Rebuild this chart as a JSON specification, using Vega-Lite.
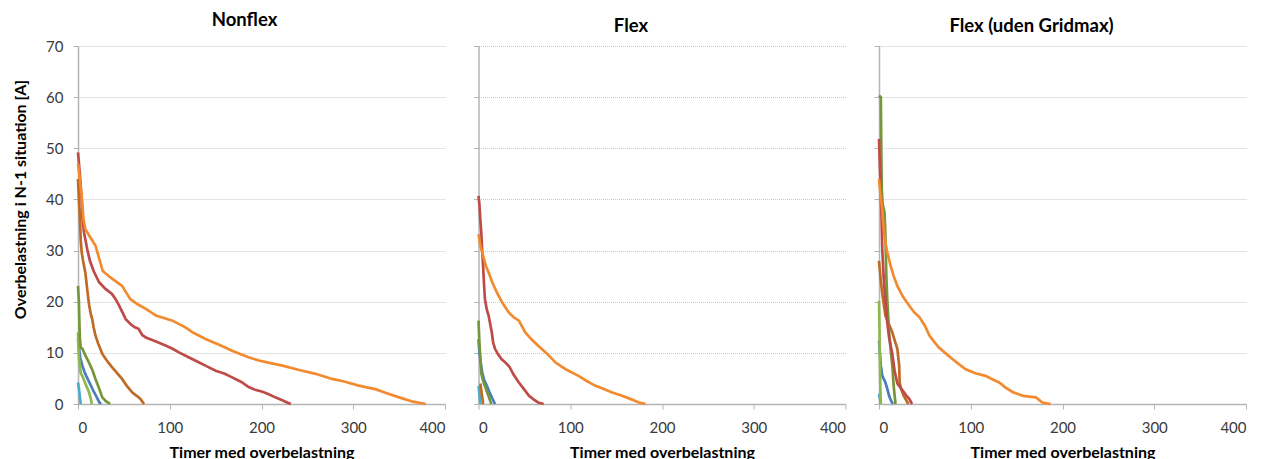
{
  "$schema": "https://vega.github.io/schema/vega-lite/v6.json",
  "background": "white",
  "padding": {"left": 12, "top": 10, "right": 2, "bottom": 0},
  "bounds": "flush",
  "spacing": 33.5,
  "config": {
    "font": "Lato",
    "view": {"stroke": null},
    "axis": {
      "labelFont": "Lato",
      "labelFontSize": 15,
      "labelColor": "#3A3A3A",
      "titleFont": "Lato",
      "titleFontSize": 16,
      "titleFontWeight": "bold",
      "titleColor": "#000000",
      "domainColor": "#B5B5B5",
      "domainWidth": 1.5,
      "tickColor": "#B5B5B5",
      "tickSize": 5,
      "gridColor": "#C8C8C8",
      "gridDash": [1, 1],
      "gridWidth": 1
    },
    "title": {"font": "Lato", "fontSize": 18.5, "fontWeight": "bold", "color": "#000000", "offset": 10}
  },
  "datasets": {
    "d": [
      {"panel": "Nonflex", "series": "aqua", "hours": 0, "value": 4.2},
      {"panel": "Nonflex", "series": "aqua", "hours": 1, "value": 3},
      {"panel": "Nonflex", "series": "aqua", "hours": 2, "value": 1.5},
      {"panel": "Nonflex", "series": "aqua", "hours": 3, "value": 0},
      {"panel": "Nonflex", "series": "blue", "hours": 0, "value": 12.7},
      {"panel": "Nonflex", "series": "blue", "hours": 1, "value": 11},
      {"panel": "Nonflex", "series": "blue", "hours": 2.5, "value": 9},
      {"panel": "Nonflex", "series": "blue", "hours": 4.7, "value": 7.5},
      {"panel": "Nonflex", "series": "blue", "hours": 7, "value": 6.3},
      {"panel": "Nonflex", "series": "blue", "hours": 9, "value": 5.5},
      {"panel": "Nonflex", "series": "blue", "hours": 13, "value": 4},
      {"panel": "Nonflex", "series": "blue", "hours": 17.5, "value": 2.3},
      {"panel": "Nonflex", "series": "blue", "hours": 20, "value": 1.5},
      {"panel": "Nonflex", "series": "blue", "hours": 23, "value": 0.4},
      {"panel": "Nonflex", "series": "blue", "hours": 25, "value": 0},
      {"panel": "Nonflex", "series": "green", "hours": 0, "value": 14},
      {"panel": "Nonflex", "series": "green", "hours": 1, "value": 9},
      {"panel": "Nonflex", "series": "green", "hours": 3, "value": 6},
      {"panel": "Nonflex", "series": "green", "hours": 4.7, "value": 5.5},
      {"panel": "Nonflex", "series": "green", "hours": 8, "value": 4},
      {"panel": "Nonflex", "series": "green", "hours": 12, "value": 2.3},
      {"panel": "Nonflex", "series": "green", "hours": 14, "value": 1},
      {"panel": "Nonflex", "series": "green", "hours": 15, "value": 0},
      {"panel": "Nonflex", "series": "olive", "hours": 0, "value": 23.1},
      {"panel": "Nonflex", "series": "olive", "hours": 1, "value": 20},
      {"panel": "Nonflex", "series": "olive", "hours": 1.5, "value": 16},
      {"panel": "Nonflex", "series": "olive", "hours": 2, "value": 13},
      {"panel": "Nonflex", "series": "olive", "hours": 3, "value": 11},
      {"panel": "Nonflex", "series": "olive", "hours": 4.7, "value": 10.8},
      {"panel": "Nonflex", "series": "olive", "hours": 8, "value": 9.5},
      {"panel": "Nonflex", "series": "olive", "hours": 12, "value": 8.1},
      {"panel": "Nonflex", "series": "olive", "hours": 16, "value": 6.5},
      {"panel": "Nonflex", "series": "olive", "hours": 19, "value": 4.9},
      {"panel": "Nonflex", "series": "olive", "hours": 22, "value": 3.5},
      {"panel": "Nonflex", "series": "olive", "hours": 26.5, "value": 1.3},
      {"panel": "Nonflex", "series": "olive", "hours": 30, "value": 0.6},
      {"panel": "Nonflex", "series": "olive", "hours": 35, "value": 0},
      {"panel": "Nonflex", "series": "brown", "hours": 0, "value": 44},
      {"panel": "Nonflex", "series": "brown", "hours": 1, "value": 40},
      {"panel": "Nonflex", "series": "brown", "hours": 2, "value": 36.8},
      {"panel": "Nonflex", "series": "brown", "hours": 3, "value": 32},
      {"panel": "Nonflex", "series": "brown", "hours": 4, "value": 29.7},
      {"panel": "Nonflex", "series": "brown", "hours": 6, "value": 27.5},
      {"panel": "Nonflex", "series": "brown", "hours": 8, "value": 25.7},
      {"panel": "Nonflex", "series": "brown", "hours": 10, "value": 22.5},
      {"panel": "Nonflex", "series": "brown", "hours": 12, "value": 19.5},
      {"panel": "Nonflex", "series": "brown", "hours": 14, "value": 17.5},
      {"panel": "Nonflex", "series": "brown", "hours": 15.5, "value": 16.6},
      {"panel": "Nonflex", "series": "brown", "hours": 17, "value": 15},
      {"panel": "Nonflex", "series": "brown", "hours": 19, "value": 13.4},
      {"panel": "Nonflex", "series": "brown", "hours": 22, "value": 11.8},
      {"panel": "Nonflex", "series": "brown", "hours": 26.5, "value": 9.8},
      {"panel": "Nonflex", "series": "brown", "hours": 31, "value": 8.6},
      {"panel": "Nonflex", "series": "brown", "hours": 37, "value": 7.2},
      {"panel": "Nonflex", "series": "brown", "hours": 42, "value": 6.2},
      {"panel": "Nonflex", "series": "brown", "hours": 48, "value": 4.9},
      {"panel": "Nonflex", "series": "brown", "hours": 53, "value": 3.6},
      {"panel": "Nonflex", "series": "brown", "hours": 59, "value": 2.3},
      {"panel": "Nonflex", "series": "brown", "hours": 64, "value": 1.6},
      {"panel": "Nonflex", "series": "brown", "hours": 68, "value": 1},
      {"panel": "Nonflex", "series": "brown", "hours": 72, "value": 0},
      {"panel": "Nonflex", "series": "red", "hours": 0, "value": 49.2},
      {"panel": "Nonflex", "series": "red", "hours": 2, "value": 45},
      {"panel": "Nonflex", "series": "red", "hours": 4, "value": 40},
      {"panel": "Nonflex", "series": "red", "hours": 5, "value": 36},
      {"panel": "Nonflex", "series": "red", "hours": 6.5, "value": 33.6},
      {"panel": "Nonflex", "series": "red", "hours": 10, "value": 30.3},
      {"panel": "Nonflex", "series": "red", "hours": 13, "value": 28},
      {"panel": "Nonflex", "series": "red", "hours": 17, "value": 26},
      {"panel": "Nonflex", "series": "red", "hours": 23, "value": 23.8},
      {"panel": "Nonflex", "series": "red", "hours": 30, "value": 22.5},
      {"panel": "Nonflex", "series": "red", "hours": 37, "value": 21.5},
      {"panel": "Nonflex", "series": "red", "hours": 41, "value": 20.5},
      {"panel": "Nonflex", "series": "red", "hours": 45, "value": 19.2},
      {"panel": "Nonflex", "series": "red", "hours": 52, "value": 16.6},
      {"panel": "Nonflex", "series": "red", "hours": 58, "value": 15.5},
      {"panel": "Nonflex", "series": "red", "hours": 62, "value": 15},
      {"panel": "Nonflex", "series": "red", "hours": 66, "value": 14.7},
      {"panel": "Nonflex", "series": "red", "hours": 70, "value": 13.5},
      {"panel": "Nonflex", "series": "red", "hours": 74, "value": 13},
      {"panel": "Nonflex", "series": "red", "hours": 85, "value": 12.2},
      {"panel": "Nonflex", "series": "red", "hours": 96, "value": 11.4},
      {"panel": "Nonflex", "series": "red", "hours": 103, "value": 10.8},
      {"panel": "Nonflex", "series": "red", "hours": 110, "value": 10.1},
      {"panel": "Nonflex", "series": "red", "hours": 120, "value": 9.2},
      {"panel": "Nonflex", "series": "red", "hours": 132, "value": 8.1},
      {"panel": "Nonflex", "series": "red", "hours": 140, "value": 7.4},
      {"panel": "Nonflex", "series": "red", "hours": 150, "value": 6.5},
      {"panel": "Nonflex", "series": "red", "hours": 160, "value": 5.9},
      {"panel": "Nonflex", "series": "red", "hours": 168, "value": 5.2},
      {"panel": "Nonflex", "series": "red", "hours": 178, "value": 4.3},
      {"panel": "Nonflex", "series": "red", "hours": 186, "value": 3.3},
      {"panel": "Nonflex", "series": "red", "hours": 193, "value": 2.8},
      {"panel": "Nonflex", "series": "red", "hours": 201, "value": 2.4},
      {"panel": "Nonflex", "series": "red", "hours": 208, "value": 1.9},
      {"panel": "Nonflex", "series": "red", "hours": 215, "value": 1.3},
      {"panel": "Nonflex", "series": "red", "hours": 222, "value": 0.8},
      {"panel": "Nonflex", "series": "red", "hours": 226, "value": 0.45},
      {"panel": "Nonflex", "series": "red", "hours": 232, "value": 0},
      {"panel": "Nonflex", "series": "orange", "hours": 0, "value": 47},
      {"panel": "Nonflex", "series": "orange", "hours": 2, "value": 44},
      {"panel": "Nonflex", "series": "orange", "hours": 4, "value": 40.7},
      {"panel": "Nonflex", "series": "orange", "hours": 6, "value": 36},
      {"panel": "Nonflex", "series": "orange", "hours": 8, "value": 34.2},
      {"panel": "Nonflex", "series": "orange", "hours": 12, "value": 33},
      {"panel": "Nonflex", "series": "orange", "hours": 19, "value": 31},
      {"panel": "Nonflex", "series": "orange", "hours": 27, "value": 26},
      {"panel": "Nonflex", "series": "orange", "hours": 35, "value": 24.8},
      {"panel": "Nonflex", "series": "orange", "hours": 48, "value": 23.1},
      {"panel": "Nonflex", "series": "orange", "hours": 57, "value": 20.5},
      {"panel": "Nonflex", "series": "orange", "hours": 65, "value": 19.5},
      {"panel": "Nonflex", "series": "orange", "hours": 74, "value": 18.6},
      {"panel": "Nonflex", "series": "orange", "hours": 85, "value": 17.3},
      {"panel": "Nonflex", "series": "orange", "hours": 103, "value": 16.3},
      {"panel": "Nonflex", "series": "orange", "hours": 117, "value": 15},
      {"panel": "Nonflex", "series": "orange", "hours": 125, "value": 14},
      {"panel": "Nonflex", "series": "orange", "hours": 139, "value": 12.7},
      {"panel": "Nonflex", "series": "orange", "hours": 155, "value": 11.5},
      {"panel": "Nonflex", "series": "orange", "hours": 168, "value": 10.4},
      {"panel": "Nonflex", "series": "orange", "hours": 185, "value": 9.2},
      {"panel": "Nonflex", "series": "orange", "hours": 197, "value": 8.5},
      {"panel": "Nonflex", "series": "orange", "hours": 210, "value": 8},
      {"panel": "Nonflex", "series": "orange", "hours": 223, "value": 7.5},
      {"panel": "Nonflex", "series": "orange", "hours": 240, "value": 6.7},
      {"panel": "Nonflex", "series": "orange", "hours": 259, "value": 5.9},
      {"panel": "Nonflex", "series": "orange", "hours": 277, "value": 4.9},
      {"panel": "Nonflex", "series": "orange", "hours": 290, "value": 4.4},
      {"panel": "Nonflex", "series": "orange", "hours": 306, "value": 3.6},
      {"panel": "Nonflex", "series": "orange", "hours": 324, "value": 2.9},
      {"panel": "Nonflex", "series": "orange", "hours": 335, "value": 2.2},
      {"panel": "Nonflex", "series": "orange", "hours": 350, "value": 1.3},
      {"panel": "Nonflex", "series": "orange", "hours": 365, "value": 0.45},
      {"panel": "Nonflex", "series": "orange", "hours": 379, "value": 0},

      {"panel": "Flex", "series": "aqua", "hours": 0, "value": 3.5},
      {"panel": "Flex", "series": "aqua", "hours": 1, "value": 2},
      {"panel": "Flex", "series": "aqua", "hours": 2, "value": 0},
      {"panel": "Flex", "series": "brown", "hours": 2, "value": 4},
      {"panel": "Flex", "series": "brown", "hours": 3.5, "value": 2},
      {"panel": "Flex", "series": "brown", "hours": 5, "value": 0},
      {"panel": "Flex", "series": "blue", "hours": 0, "value": 12.7},
      {"panel": "Flex", "series": "blue", "hours": 1, "value": 10},
      {"panel": "Flex", "series": "blue", "hours": 2.5, "value": 8},
      {"panel": "Flex", "series": "blue", "hours": 4, "value": 6.2},
      {"panel": "Flex", "series": "blue", "hours": 6, "value": 4.8},
      {"panel": "Flex", "series": "blue", "hours": 9, "value": 3.6},
      {"panel": "Flex", "series": "blue", "hours": 12, "value": 2.3},
      {"panel": "Flex", "series": "blue", "hours": 14.5, "value": 1.3},
      {"panel": "Flex", "series": "blue", "hours": 18, "value": 0},
      {"panel": "Flex", "series": "olive", "hours": 0, "value": 16.3},
      {"panel": "Flex", "series": "olive", "hours": 1, "value": 12},
      {"panel": "Flex", "series": "olive", "hours": 2, "value": 9},
      {"panel": "Flex", "series": "olive", "hours": 3, "value": 6},
      {"panel": "Flex", "series": "olive", "hours": 5, "value": 4.5},
      {"panel": "Flex", "series": "olive", "hours": 8, "value": 3},
      {"panel": "Flex", "series": "olive", "hours": 11, "value": 1.5},
      {"panel": "Flex", "series": "olive", "hours": 14, "value": 0},
      {"panel": "Flex", "series": "red", "hours": 0, "value": 40.7},
      {"panel": "Flex", "series": "red", "hours": 1, "value": 39},
      {"panel": "Flex", "series": "red", "hours": 2, "value": 36},
      {"panel": "Flex", "series": "red", "hours": 3, "value": 33.6},
      {"panel": "Flex", "series": "red", "hours": 4, "value": 30},
      {"panel": "Flex", "series": "red", "hours": 5, "value": 27},
      {"panel": "Flex", "series": "red", "hours": 6, "value": 23.5},
      {"panel": "Flex", "series": "red", "hours": 7, "value": 20.5},
      {"panel": "Flex", "series": "red", "hours": 9, "value": 18.5},
      {"panel": "Flex", "series": "red", "hours": 11, "value": 17.3},
      {"panel": "Flex", "series": "red", "hours": 14.5, "value": 14},
      {"panel": "Flex", "series": "red", "hours": 16, "value": 12},
      {"panel": "Flex", "series": "red", "hours": 18, "value": 10.8},
      {"panel": "Flex", "series": "red", "hours": 21, "value": 9.8},
      {"panel": "Flex", "series": "red", "hours": 25, "value": 8.8},
      {"panel": "Flex", "series": "red", "hours": 30, "value": 8},
      {"panel": "Flex", "series": "red", "hours": 34, "value": 7.2},
      {"panel": "Flex", "series": "red", "hours": 38, "value": 5.8},
      {"panel": "Flex", "series": "red", "hours": 44, "value": 4.2},
      {"panel": "Flex", "series": "red", "hours": 50, "value": 2.8},
      {"panel": "Flex", "series": "red", "hours": 55, "value": 1.6},
      {"panel": "Flex", "series": "red", "hours": 60, "value": 0.9},
      {"panel": "Flex", "series": "red", "hours": 65, "value": 0.3},
      {"panel": "Flex", "series": "red", "hours": 71, "value": 0},
      {"panel": "Flex", "series": "orange", "hours": 0, "value": 33.2},
      {"panel": "Flex", "series": "orange", "hours": 2, "value": 31},
      {"panel": "Flex", "series": "orange", "hours": 5, "value": 29},
      {"panel": "Flex", "series": "orange", "hours": 8, "value": 27},
      {"panel": "Flex", "series": "orange", "hours": 11, "value": 25.7},
      {"panel": "Flex", "series": "orange", "hours": 15, "value": 23.8},
      {"panel": "Flex", "series": "orange", "hours": 20, "value": 21.8},
      {"panel": "Flex", "series": "orange", "hours": 26, "value": 19.8},
      {"panel": "Flex", "series": "orange", "hours": 33, "value": 17.9},
      {"panel": "Flex", "series": "orange", "hours": 38, "value": 17},
      {"panel": "Flex", "series": "orange", "hours": 44, "value": 16.3},
      {"panel": "Flex", "series": "orange", "hours": 51, "value": 14},
      {"panel": "Flex", "series": "orange", "hours": 58, "value": 12.6},
      {"panel": "Flex", "series": "orange", "hours": 65, "value": 11.4},
      {"panel": "Flex", "series": "orange", "hours": 75, "value": 9.8},
      {"panel": "Flex", "series": "orange", "hours": 84, "value": 8.1},
      {"panel": "Flex", "series": "orange", "hours": 95, "value": 6.8},
      {"panel": "Flex", "series": "orange", "hours": 109, "value": 5.5},
      {"panel": "Flex", "series": "orange", "hours": 118, "value": 4.5},
      {"panel": "Flex", "series": "orange", "hours": 127, "value": 3.6},
      {"panel": "Flex", "series": "orange", "hours": 136, "value": 3},
      {"panel": "Flex", "series": "orange", "hours": 145, "value": 2.3},
      {"panel": "Flex", "series": "orange", "hours": 155, "value": 1.7},
      {"panel": "Flex", "series": "orange", "hours": 164, "value": 1.1},
      {"panel": "Flex", "series": "orange", "hours": 175, "value": 0.3},
      {"panel": "Flex", "series": "orange", "hours": 182, "value": 0},

      {"panel": "Flex (uden Gridmax)", "series": "aqua", "hours": 0, "value": 2},
      {"panel": "Flex (uden Gridmax)", "series": "aqua", "hours": 1, "value": 1},
      {"panel": "Flex (uden Gridmax)", "series": "aqua", "hours": 2, "value": 0},
      {"panel": "Flex (uden Gridmax)", "series": "blue", "hours": 0, "value": 12.4},
      {"panel": "Flex (uden Gridmax)", "series": "blue", "hours": 1, "value": 10},
      {"panel": "Flex (uden Gridmax)", "series": "blue", "hours": 2, "value": 7.5},
      {"panel": "Flex (uden Gridmax)", "series": "blue", "hours": 3.6, "value": 5.5},
      {"panel": "Flex (uden Gridmax)", "series": "blue", "hours": 7, "value": 4.2},
      {"panel": "Flex (uden Gridmax)", "series": "blue", "hours": 9, "value": 3},
      {"panel": "Flex (uden Gridmax)", "series": "blue", "hours": 11, "value": 1.6},
      {"panel": "Flex (uden Gridmax)", "series": "blue", "hours": 13, "value": 0.7},
      {"panel": "Flex (uden Gridmax)", "series": "blue", "hours": 15, "value": 0},
      {"panel": "Flex (uden Gridmax)", "series": "green", "hours": 0, "value": 20.2},
      {"panel": "Flex (uden Gridmax)", "series": "green", "hours": 0.5, "value": 15},
      {"panel": "Flex (uden Gridmax)", "series": "green", "hours": 1, "value": 8},
      {"panel": "Flex (uden Gridmax)", "series": "green", "hours": 1.5, "value": 3},
      {"panel": "Flex (uden Gridmax)", "series": "green", "hours": 2, "value": 0},
      {"panel": "Flex (uden Gridmax)", "series": "brown", "hours": 0, "value": 28},
      {"panel": "Flex (uden Gridmax)", "series": "brown", "hours": 2, "value": 24},
      {"panel": "Flex (uden Gridmax)", "series": "brown", "hours": 4, "value": 21},
      {"panel": "Flex (uden Gridmax)", "series": "brown", "hours": 7, "value": 17.3},
      {"panel": "Flex (uden Gridmax)", "series": "brown", "hours": 10, "value": 16},
      {"panel": "Flex (uden Gridmax)", "series": "brown", "hours": 14.5, "value": 14},
      {"panel": "Flex (uden Gridmax)", "series": "brown", "hours": 17, "value": 12.5},
      {"panel": "Flex (uden Gridmax)", "series": "brown", "hours": 20, "value": 10.8},
      {"panel": "Flex (uden Gridmax)", "series": "brown", "hours": 22, "value": 7.5},
      {"panel": "Flex (uden Gridmax)", "series": "brown", "hours": 22.5, "value": 4.2},
      {"panel": "Flex (uden Gridmax)", "series": "brown", "hours": 24, "value": 3},
      {"panel": "Flex (uden Gridmax)", "series": "brown", "hours": 27, "value": 1.6},
      {"panel": "Flex (uden Gridmax)", "series": "brown", "hours": 32, "value": 0},
      {"panel": "Flex (uden Gridmax)", "series": "olive", "hours": 0, "value": 60.3},
      {"panel": "Flex (uden Gridmax)", "series": "olive", "hours": 2, "value": 60},
      {"panel": "Flex (uden Gridmax)", "series": "olive", "hours": 2.5, "value": 50},
      {"panel": "Flex (uden Gridmax)", "series": "olive", "hours": 3, "value": 42},
      {"panel": "Flex (uden Gridmax)", "series": "olive", "hours": 4, "value": 39},
      {"panel": "Flex (uden Gridmax)", "series": "olive", "hours": 6, "value": 37.5},
      {"panel": "Flex (uden Gridmax)", "series": "olive", "hours": 7, "value": 33},
      {"panel": "Flex (uden Gridmax)", "series": "olive", "hours": 8, "value": 25},
      {"panel": "Flex (uden Gridmax)", "series": "olive", "hours": 9, "value": 20.5},
      {"panel": "Flex (uden Gridmax)", "series": "olive", "hours": 11, "value": 14},
      {"panel": "Flex (uden Gridmax)", "series": "olive", "hours": 13, "value": 10},
      {"panel": "Flex (uden Gridmax)", "series": "olive", "hours": 14.5, "value": 7.5},
      {"panel": "Flex (uden Gridmax)", "series": "olive", "hours": 16, "value": 3.5},
      {"panel": "Flex (uden Gridmax)", "series": "olive", "hours": 18, "value": 0},
      {"panel": "Flex (uden Gridmax)", "series": "red", "hours": 0, "value": 51.8},
      {"panel": "Flex (uden Gridmax)", "series": "red", "hours": 1, "value": 46},
      {"panel": "Flex (uden Gridmax)", "series": "red", "hours": 2, "value": 41},
      {"panel": "Flex (uden Gridmax)", "series": "red", "hours": 3, "value": 35},
      {"panel": "Flex (uden Gridmax)", "series": "red", "hours": 3.6, "value": 30},
      {"panel": "Flex (uden Gridmax)", "series": "red", "hours": 5, "value": 25},
      {"panel": "Flex (uden Gridmax)", "series": "red", "hours": 7, "value": 20},
      {"panel": "Flex (uden Gridmax)", "series": "red", "hours": 9, "value": 16},
      {"panel": "Flex (uden Gridmax)", "series": "red", "hours": 11, "value": 13},
      {"panel": "Flex (uden Gridmax)", "series": "red", "hours": 14.5, "value": 9.8},
      {"panel": "Flex (uden Gridmax)", "series": "red", "hours": 17, "value": 6.5},
      {"panel": "Flex (uden Gridmax)", "series": "red", "hours": 20, "value": 4},
      {"panel": "Flex (uden Gridmax)", "series": "red", "hours": 25, "value": 2.8},
      {"panel": "Flex (uden Gridmax)", "series": "red", "hours": 30, "value": 1.6},
      {"panel": "Flex (uden Gridmax)", "series": "red", "hours": 33, "value": 1},
      {"panel": "Flex (uden Gridmax)", "series": "red", "hours": 36, "value": 0},
      {"panel": "Flex (uden Gridmax)", "series": "orange", "hours": 0, "value": 44},
      {"panel": "Flex (uden Gridmax)", "series": "orange", "hours": 1, "value": 42},
      {"panel": "Flex (uden Gridmax)", "series": "orange", "hours": 3, "value": 38.8},
      {"panel": "Flex (uden Gridmax)", "series": "orange", "hours": 5.5, "value": 33.6},
      {"panel": "Flex (uden Gridmax)", "series": "orange", "hours": 7, "value": 31.5},
      {"panel": "Flex (uden Gridmax)", "series": "orange", "hours": 9, "value": 29.7},
      {"panel": "Flex (uden Gridmax)", "series": "orange", "hours": 12.7, "value": 27},
      {"panel": "Flex (uden Gridmax)", "series": "orange", "hours": 16, "value": 25},
      {"panel": "Flex (uden Gridmax)", "series": "orange", "hours": 20, "value": 23.1},
      {"panel": "Flex (uden Gridmax)", "series": "orange", "hours": 26, "value": 21},
      {"panel": "Flex (uden Gridmax)", "series": "orange", "hours": 33, "value": 19.2},
      {"panel": "Flex (uden Gridmax)", "series": "orange", "hours": 38, "value": 18},
      {"panel": "Flex (uden Gridmax)", "series": "orange", "hours": 44, "value": 17},
      {"panel": "Flex (uden Gridmax)", "series": "orange", "hours": 50, "value": 15.3},
      {"panel": "Flex (uden Gridmax)", "series": "orange", "hours": 55, "value": 13.4},
      {"panel": "Flex (uden Gridmax)", "series": "orange", "hours": 60, "value": 12.2},
      {"panel": "Flex (uden Gridmax)", "series": "orange", "hours": 65, "value": 11.1},
      {"panel": "Flex (uden Gridmax)", "series": "orange", "hours": 72, "value": 10},
      {"panel": "Flex (uden Gridmax)", "series": "orange", "hours": 80, "value": 8.8},
      {"panel": "Flex (uden Gridmax)", "series": "orange", "hours": 87, "value": 7.8},
      {"panel": "Flex (uden Gridmax)", "series": "orange", "hours": 94.5, "value": 6.8},
      {"panel": "Flex (uden Gridmax)", "series": "orange", "hours": 105, "value": 6},
      {"panel": "Flex (uden Gridmax)", "series": "orange", "hours": 116, "value": 5.5},
      {"panel": "Flex (uden Gridmax)", "series": "orange", "hours": 124, "value": 4.8},
      {"panel": "Flex (uden Gridmax)", "series": "orange", "hours": 131, "value": 4.2},
      {"panel": "Flex (uden Gridmax)", "series": "orange", "hours": 138, "value": 3.2},
      {"panel": "Flex (uden Gridmax)", "series": "orange", "hours": 146, "value": 2.3},
      {"panel": "Flex (uden Gridmax)", "series": "orange", "hours": 157, "value": 1.6},
      {"panel": "Flex (uden Gridmax)", "series": "orange", "hours": 171, "value": 1.3},
      {"panel": "Flex (uden Gridmax)", "series": "orange", "hours": 178, "value": 0.3},
      {"panel": "Flex (uden Gridmax)", "series": "orange", "hours": 187, "value": 0}
    ]
  },
  "data": {"name": "d"},
  "hconcat": [
    {
      "title": {"text": "Nonflex", "dx": -17},
      "width": 367,
      "height": 358,
      "transform": [{"filter": "datum.panel === 'Nonflex'"}],
      "mark": {"type": "line", "strokeWidth": 2.7},
      "encoding": {
        "x": {"field": "hours", "type": "quantitative", "scale": {"domain": [0, 400], "nice": false}, "axis": {"title": "Timer med overbelastning", "values": [0, 100, 200, 300, 400], "grid": false, "labelPadding": 11, "titlePadding": 9}},
        "y": {"field": "value", "type": "quantitative", "scale": {"domain": [0, 70], "nice": false}, "axis": {"title": "Overbelastning i N-1 situation [A]", "titleY": 153, "values": [0, 10, 20, 30, 40, 50, 60, 70], "labelPadding": 10, "titlePadding": 17}},
        "color": {"field": "series", "type": "nominal", "legend": null, "scale": {"domain": ["aqua", "blue", "green", "olive", "brown", "red", "orange"], "range": ["#4BACC6", "#4A7EBB", "#8DB84E", "#77963A", "#BF6B26", "#BE4B48", "#F28A30"]}}
      }
    },
    {
      "title": {"text": "Flex", "dx": -31},
      "width": 367,
      "height": 358,
      "transform": [{"filter": "datum.panel === 'Flex'"}],
      "mark": {"type": "line", "strokeWidth": 2.7},
      "encoding": {
        "x": {"field": "hours", "type": "quantitative", "scale": {"domain": [0, 400], "nice": false}, "axis": {"title": "Timer med overbelastning", "values": [0, 100, 200, 300, 400], "grid": false, "labelPadding": 11, "titlePadding": 9}},
        "y": {"field": "value", "type": "quantitative", "scale": {"domain": [0, 70], "nice": false}, "axis": {"title": null, "labels": false, "values": [0, 10, 20, 30, 40, 50, 60, 70]}},
        "color": {"field": "series", "type": "nominal", "legend": null, "scale": {"domain": ["aqua", "blue", "green", "olive", "brown", "red", "orange"], "range": ["#4BACC6", "#4A7EBB", "#8DB84E", "#77963A", "#BF6B26", "#BE4B48", "#F28A30"]}}
      }
    },
    {
      "title": {"text": "Flex (uden Gridmax)", "dx": -31},
      "width": 367,
      "height": 358,
      "transform": [{"filter": "datum.panel === 'Flex (uden Gridmax)'"}],
      "mark": {"type": "line", "strokeWidth": 2.7},
      "encoding": {
        "x": {"field": "hours", "type": "quantitative", "scale": {"domain": [0, 400], "nice": false}, "axis": {"title": "Timer med overbelastning", "values": [0, 100, 200, 300, 400], "grid": false, "labelPadding": 11, "titlePadding": 9}},
        "y": {"field": "value", "type": "quantitative", "scale": {"domain": [0, 70], "nice": false}, "axis": {"title": null, "labels": false, "values": [0, 10, 20, 30, 40, 50, 60, 70]}},
        "color": {"field": "series", "type": "nominal", "legend": null, "scale": {"domain": ["aqua", "blue", "green", "olive", "brown", "red", "orange"], "range": ["#4BACC6", "#4A7EBB", "#8DB84E", "#77963A", "#BF6B26", "#BE4B48", "#F28A30"]}}
      }
    }
  ]
}
